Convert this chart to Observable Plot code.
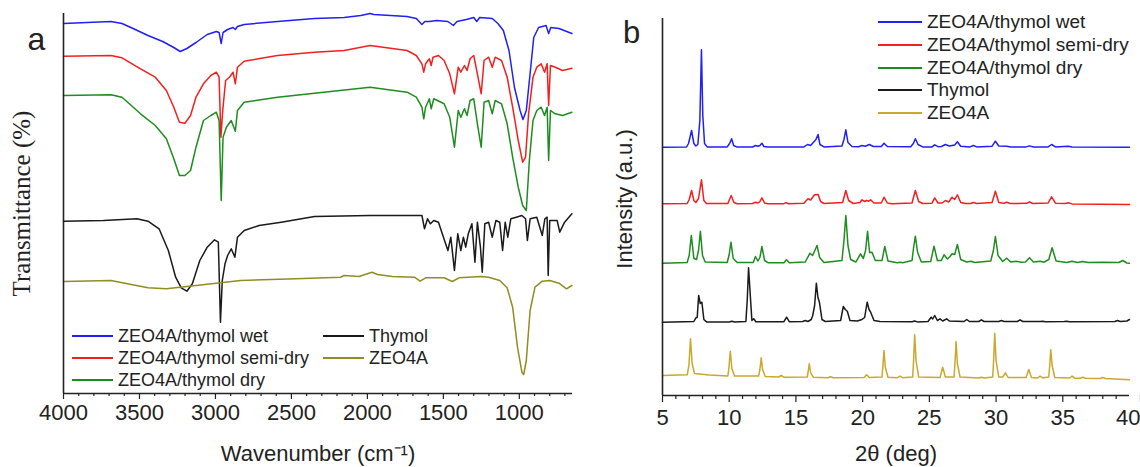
<!DOCTYPE html>
<html>
<head>
<meta charset="utf-8">
<script src="https://cdn.jsdelivr.net/npm/d3@7"></script>
<script src="https://cdn.jsdelivr.net/npm/@observablehq/plot@0.6"></script>
<style>
  html, body { margin: 0; padding: 0; background: #fff; }
  #root { position: relative; width: 1140px; height: 467px; background: #fff; overflow: hidden;
          font-family: "Liberation Sans", Arial, sans-serif; color: #222; }
  #panelA { position: absolute; left: 0; top: 0; }
  #panelB { position: absolute; left: 580px; top: 0; }
  .leg { position: absolute; display: flex; align-items: center; height: 22px; white-space: nowrap; }
  .leg .sw { display: inline-block; height: 0; border-top: 2px solid; margin-right: 5px; }
</style>
</head>
<body>
<div id="root">
  <div id="panelA"></div>
  <div id="panelB"></div>
</div>
<script>
// ---------------- Series names ----------------
const seriesNames = ["ZEO4A/thymol wet", "ZEO4A/thymol semi-dry", "ZEO4A/thymol dry", "Thymol", "ZEO4A"];

// ---------------- Panel a: FTIR (wavenumber, transmittance a.u.) ----------------
const ftirWet = [[4000,370],[3688,372],[3615,370],[3542,365],[3444,358],[3347,352],[3274,346],[3232,342],[3188,345],[3128,351],[3054,359],[2994,362],[2976,361],[2962,350],[2950,361],[2920,364],[2884,366],[2869,364],[2855,367],[2811,369],[2591,372],[2348,375],[2153,376],[2043,378],[1982,380],[1958,379],[1739,377],[1678,375],[1641,369],[1622,372],[1592,372],[1544,373],[1470,372],[1434,368],[1410,372],[1349,374],[1300,376],[1280,372],[1261,376],[1178,375],[1141,370],[1105,363],[1068,343],[1032,306],[995,283],[976,274],[954,283],[929,320],[905,356],[873,366],[824,368],[807,360],[793,366],[739,365],[654,360]];
const ftirSemi = [[4000,337.3],[3688,338],[3615,335.7],[3493,324.7],[3396,316.3],[3323,303],[3274,286.3],[3237,271.3],[3201,270.3],[3164,278],[3128,296.3],[3079,309.7],[3030,318],[2994,321.3],[2976,316.3],[2964,256.3],[2952,283],[2933,313],[2908,316.3],[2884,321.3],[2869,309.7],[2855,326.3],[2811,332.3],[2591,338],[2348,341.3],[2153,343],[1982,348],[1739,343],[1678,338],[1641,329.7],[1629,321.3],[1617,329.7],[1592,334.7],[1580,328],[1568,336.3],[1532,338],[1495,333],[1458,319.7],[1427,299.7],[1402,326.3],[1385,321.3],[1361,328],[1344,323],[1324,334.7],[1300,338],[1276,319.7],[1251,299.7],[1232,333],[1202,336.3],[1178,326.3],[1159,336.3],[1117,333],[1080,316.3],[1044,286.3],[1007,253],[978,231.3],[959,236.3],[939,279.7],[910,316.3],[885,326.3],[856,329.7],[834,321.3],[817,329.7],[807,288],[795,328],[763,326.3],[715,323],[654,325.3]];
const ftirDry = [[4000,298],[3688,298.7],[3615,296.3],[3493,279.7],[3396,268],[3323,254.7],[3274,234.7],[3237,218],[3201,218],[3164,223],[3128,246.3],[3079,273],[3030,278],[2994,281.3],[2976,273],[2962,193],[2950,256.3],[2928,266.3],[2896,273],[2869,262.3],[2855,283],[2811,291.3],[2591,296.3],[2348,300.3],[1982,306.3],[1739,301.3],[1678,296.3],[1641,286.3],[1629,274.7],[1617,286.3],[1592,294.7],[1580,284.7],[1563,294.7],[1495,289.7],[1458,276.3],[1427,246.3],[1402,283],[1385,276.3],[1361,284.7],[1344,278],[1324,293],[1300,294.7],[1276,269.7],[1251,246.3],[1232,291.3],[1202,293],[1178,279.7],[1159,293],[1117,289.7],[1080,269.7],[1044,236.3],[1007,206.3],[978,188],[954,183],[934,233],[910,273],[885,283],[856,286.3],[834,278],[817,286.3],[807,233],[795,283],[763,279.7],[715,278],[654,281.3]];
const ftirThymol = [[4000,172.3],[3737,173],[3517,174.7],[3444,172.3],[3371,164.7],[3310,143],[3262,116.3],[3225,105.7],[3188,102.3],[3152,109.7],[3103,133],[3054,146.3],[3006,153.7],[2981,151.3],[2967,71.3],[2955,113],[2937,129.7],[2920,138],[2896,144.7],[2872,136.3],[2855,156.3],[2811,163],[2713,168],[2567,171.3],[2348,177],[1982,178],[1641,178],[1624,164.7],[1604,174.7],[1585,169.7],[1563,173],[1532,171.3],[1507,159.7],[1470,143],[1451,156.3],[1427,123],[1405,159.7],[1385,143],[1368,156.3],[1353,146.3],[1336,159.7],[1312,169.7],[1292,131.3],[1276,171.3],[1256,146.3],[1244,121.3],[1227,169.7],[1202,171.3],[1178,156.3],[1154,173],[1129,171.3],[1110,143],[1093,171.3],[1076,156.3],[1056,174.7],[1020,176.3],[983,178],[959,174.7],[947,153],[929,174.7],[885,176.3],[849,158],[832,174.7],[817,176.3],[810,118],[800,173],[751,173],[734,161.3],[702,171.3],[654,179.7]];
const ftirZeo = [[4000,112],[3688,113],[3444,105.7],[3323,104.7],[3128,108],[2835,113],[2470,114.7],[2177,116.3],[2153,118],[2055,117],[1970,121.3],[1933,119],[1836,117],[1690,116.3],[1653,112.3],[1617,115.7],[1495,115.7],[1441,112],[1397,115.7],[1251,117],[1202,116.3],[1129,113],[1080,105.7],[1044,86.3],[1012,46.3],[983,21.3],[971,19],[954,33],[929,83],[897,106.3],[849,112.3],[800,113],[739,110.3],[690,104.7],[654,108]];
const ftirMajorTicks = [4000, 3500, 3000, 2500, 2000, 1500, 1000];
const ftirMinorTicks = [3900,3800,3700,3600,3400,3300,3200,3100,2900,2800,2700,2600,2400,2300,2200,2100,1900,1800,1700,1600,1400,1300,1200,1100,900,800,700];

// ---------------- Panel b: XRD (2theta, intensity a.u.) ----------------
const xrdWet = [[5,248.3],[6.8,248.5],[6.95,252],[7.18,265],[7.35,252],[7.5,249.5],[7.65,251],[7.8,275],[7.92,345.7],[8.02,280],[8.15,252],[8.35,248.6],[9.85,248.6],[10.03,252],[10.18,256.7],[10.33,250],[10.6,248.4],[11.75,248.5],[11.97,250],[12.15,249.2],[12.3,250],[12.45,252.3],[12.6,249],[12.9,248.4],[15.6,248.6],[15.87,251],[16.1,250],[16.5,256],[16.66,261],[16.8,251],[17.1,248.6],[18.45,249.5],[18.6,256],[18.74,265.7],[18.9,253],[19.2,249],[19.7,248.8],[19.95,250],[20.2,249.3],[20.5,251],[20.8,249],[21.4,249],[21.6,252.3],[21.85,249],[23.6,248.8],[23.8,252],[23.95,256.7],[24.15,251],[24.5,248.6],[25.2,248.6],[25.4,250.7],[25.65,248.8],[25.9,249],[26.2,251],[26.5,249.5],[26.9,250.5],[27.1,253.7],[27.35,249.3],[28.05,248.6],[28.3,250],[28.55,248.6],[29.7,249.3],[29.95,254.3],[30.2,249.5],[30.8,249.3],[31.1,248.5],[32.25,248.6],[32.5,249.6],[32.8,248.5],[33.9,248.6],[34.16,251],[34.45,248.6],[35.4,249.2],[35.7,248.4],[40,248.3]];
const xrdSemi = [[5,191.7],[6.85,192],[7.0,196],[7.18,205],[7.35,195],[7.5,193],[7.7,197],[7.92,215.7],[8.1,195],[8.3,192],[9.9,192],[10.15,200],[10.35,193],[10.6,191.8],[11.75,192],[11.97,193.3],[12.15,192.5],[12.3,194],[12.45,197.7],[12.65,192.5],[12.9,191.8],[14.1,191.8],[14.26,192.9],[14.45,191.8],[15.6,192.2],[15.9,196.7],[16.1,195.5],[16.4,200.7],[16.66,201],[16.85,194],[17.1,192],[18.5,193],[18.74,205],[18.95,195],[19.3,192],[19.8,193],[19.95,195.7],[20.15,194],[20.3,195],[20.45,194.3],[20.6,195.7],[20.85,192.5],[21.4,192.5],[21.6,198.3],[21.85,192.5],[22.2,191.8],[23.7,192.5],[23.95,205],[24.2,194],[24.5,192],[25.2,192.3],[25.4,197.7],[25.65,192.5],[25.95,192.5],[26.2,195],[26.45,193.5],[26.7,198.3],[26.9,196],[27.1,200.7],[27.35,193],[27.7,192],[28.1,192],[28.3,193],[28.55,192],[29.7,193],[29.95,204.3],[30.2,193],[30.6,192.3],[30.8,193.3],[31.05,192],[32.3,192.2],[32.5,193.7],[32.75,192],[33.9,192.5],[34.16,198.7],[34.45,192.3],[35.2,192],[35.4,192.7],[35.7,191.6],[40,191]];
const xrdDry = [[5,132.3],[6.85,133],[7.0,140],[7.16,160],[7.35,137],[7.55,136],[7.7,145],[7.84,164.3],[8.0,140],[8.2,133.5],[9.85,133],[10.0,141],[10.13,153.3],[10.3,137],[10.6,133],[11.8,133],[11.97,139],[12.15,134.5],[12.3,138],[12.45,149],[12.65,135],[12.9,132.8],[14.1,132.8],[14.29,135.7],[14.5,132.8],[15.7,133.5],[16.05,142.3],[16.25,140],[16.45,146],[16.58,150],[16.78,138],[17.1,133],[18.45,135],[18.6,155],[18.74,180],[18.9,150],[19.1,136],[19.5,133.5],[19.84,141.7],[20.05,137],[20.22,145],[20.37,164.3],[20.52,143],[20.7,143.3],[20.95,135],[21.45,135],[21.66,149],[21.9,134.5],[22.6,132.8],[22.8,133.3],[23.0,132.8],[23.7,135],[23.82,148],[23.95,159.3],[24.12,143],[24.4,133.5],[25.1,134],[25.35,149.3],[25.6,135],[25.9,135],[26.1,140.7],[26.35,136.5],[26.55,139],[26.7,141.7],[26.9,141],[27.1,151],[27.35,136],[27.8,133.5],[28.1,134.3],[28.4,133],[29.6,134.5],[29.8,145],[29.95,159],[30.15,140],[30.5,134],[30.8,137.3],[31.1,133.5],[31.5,134.3],[31.9,133.3],[32.2,133.5],[32.5,137.7],[32.8,133.5],[33.3,134.3],[33.6,133.3],[33.95,136],[34.2,147.7],[34.5,134.5],[35.3,133],[35.7,134.3],[36.1,133],[36.5,134],[36.9,133],[38.0,133.3],[39.2,133],[39.5,135],[39.8,132.5],[40,132.3]];
const xrdThymol = [[5,73.3],[7.35,74],[7.5,77.7],[7.6,78],[7.71,100],[7.83,92],[7.95,93.3],[8.1,76],[8.3,73.6],[10.0,73.6],[10.2,74.3],[10.4,73.5],[11.25,74],[11.35,95],[11.45,127.7],[11.58,100],[11.7,75],[11.84,76.7],[12.0,73.8],[14.1,73.8],[14.3,78.3],[14.5,73.8],[15.5,74],[15.7,75],[15.9,74],[16.15,76],[16.26,80],[16.4,90],[16.53,112.3],[16.65,98],[16.76,93.3],[16.95,76],[17.2,74],[18.35,75],[18.55,89],[18.7,86],[18.85,84.3],[19.05,75],[19.6,74.5],[19.9,75.7],[20.15,78],[20.34,93.3],[20.48,86],[20.6,83.3],[20.85,75],[21.3,74],[23.7,73.8],[23.9,74.5],[24.1,73.6],[24.9,74],[25.13,78.3],[25.25,76.5],[25.4,80],[25.6,75],[25.8,76.7],[26.0,74.5],[26.3,76.7],[26.5,74.5],[27.6,74],[27.8,76],[28.0,74],[28.7,74],[28.9,75.7],[29.1,74],[30.2,74],[30.4,75],[30.6,74],[31.6,74],[31.8,75.7],[32.0,74],[33.3,74],[33.5,74.3],[33.7,73.8],[35.1,74],[35.3,74.3],[35.5,73.8],[38.9,74],[39.1,75],[39.3,74],[39.8,74.5],[40,76]];
const xrdZeo = [[5,20],[6.85,20.7],[6.98,30],[7.1,56.7],[7.22,32],[7.4,22],[8.5,20.5],[9.9,19.5],[9.98,28],[10.08,44.3],[10.2,27],[10.4,19.5],[12.2,19.5],[12.3,26],[12.4,37.7],[12.5,26],[12.7,19],[13.7,18.5],[13.9,20],[14.1,18.3],[15.85,18.5],[15.92,24],[16.0,31.7],[16.1,23],[16.3,18.3],[17.4,17.7],[17.6,18.7],[17.8,17.7],[20.1,18],[20.3,20.7],[20.5,18],[21.45,18.5],[21.52,30],[21.6,45],[21.7,28],[21.9,18.3],[22.6,17.8],[22.8,19.3],[23.0,17.8],[23.75,18.5],[23.82,35],[23.9,60.7],[24.0,35],[24.2,18.5],[25.8,18],[26.0,28.3],[26.2,18.5],[26.85,18.5],[26.92,32],[27.0,54],[27.1,32],[27.3,18.5],[28.7,17.5],[28.9,18.3],[29.1,17.5],[29.75,18.5],[29.82,36],[29.9,62.3],[30.0,35],[30.2,18.5],[30.5,18.5],[30.7,22.7],[30.9,18],[32.25,18],[32.45,26],[32.65,18],[33.1,17.5],[33.3,19.3],[33.5,17.5],[33.95,18.5],[34.02,30],[34.1,45.7],[34.2,30],[34.4,18],[35.5,17.5],[35.7,19.3],[35.9,17.3],[36.3,17.3],[36.5,18.3],[36.7,17.2],[37.8,17],[38.0,18],[38.2,17],[40,15.7]];
const xrdMajorTicks = [5, 10, 15, 20, 25, 30, 35];
const xrdLastTick = [40];
const xrdMinorTicks = [6,7,8,9,11,12,13,14,16,17,18,19,21,22,23,24,26,27,28,29,31,32,33,34,36,37,38,39];

// ---------------- Styles ----------------
const colorsA = ["#2020f4", "#f21f1f", "#1f8c1f", "#1a1a1a", "#8e8e22"];
const colorsB = ["#2020f4", "#f21f1f", "#1f8c1f", "#1a1a1a", "#c9a82c"];
const FONT = "'Liberation Sans', Arial, sans-serif";
const SERIF = "'Liberation Serif', 'Times New Roman', serif";

function rows(list) {
  const out = [];
  list.forEach((pts, i) => pts.forEach(([x, y]) => out.push({series: seriesNames[i], x, y})));
  return out;
}
const rowsA = rows([ftirWet, ftirSemi, ftirDry, ftirThymol, ftirZeo]);
const rowsB = rows([xrdWet, xrdSemi, xrdDry, xrdThymol, xrdZeo]);

const T = {textAnchor: "middle", lineAnchor: "middle", fill: "#222"};

// ---------------- Panel a ----------------
const plotA = Plot.plot({
  width: 580, height: 467,
  marginLeft: 63, marginRight: 8, marginTop: 13, marginBottom: 74,
  x: {domain: [4000, 650], label: null},
  y: {domain: [0, 380], axis: null},
  color: {domain: seriesNames, range: colorsA},
  style: {fontFamily: FONT, fontSize: "22px", color: "#222", background: "transparent", overflow: "visible"},
  marks: [
    Plot.axisX({ticks: ftirMinorTicks, tickSize: 3, tickFormat: () => "", label: null, strokeWidth: 1.2}),
    Plot.axisX({ticks: ftirMajorTicks, tickSize: 6, tickPadding: 5, tickFormat: d => String(d), label: null, strokeWidth: 1.2, fontSize: 22, fontFamily: FONT}),
    Plot.line(rowsA, {x: "x", y: "y", z: "series", stroke: "series", strokeWidth: 1.5}),
    Plot.ruleY([0], {stroke: "#222", strokeWidth: 1.6}),
    Plot.ruleX([4000], {stroke: "#222", strokeWidth: 1.6}),
    Plot.text(["a"], {...T, text: d => d, frameAnchor: "top-left", dx: -27, dy: 26, fontSize: 32, fontFamily: FONT}),
    Plot.text(["Transmittance (%)"], {...T, text: d => d, frameAnchor: "left", dx: -42, rotate: -90, fontSize: 25, fontFamily: SERIF}),
    Plot.text(["Wavenumber (cm\u207B\u00B9)"], {...T, text: d => d, frameAnchor: "bottom", dy: 60, fontSize: 22, fontFamily: FONT})
  ]
});
document.getElementById("panelA").appendChild(plotA);

// ---------------- Panel b ----------------
const plotB = Plot.plot({
  width: 560, height: 467,
  marginLeft: 82, marginRight: 11, marginTop: 18, marginBottom: 72,
  x: {domain: [5, 40], label: null},
  y: {domain: [0, 377], axis: null},
  color: {domain: seriesNames, range: colorsB},
  style: {fontFamily: FONT, fontSize: "22px", color: "#222", background: "transparent", overflow: "visible"},
  marks: [
    Plot.axisX({ticks: xrdMinorTicks, tickSize: 4, tickFormat: () => "", label: null, strokeWidth: 1.2}),
    Plot.axisX({ticks: xrdMajorTicks, tickSize: 7, tickPadding: 7, tickFormat: d => String(d), label: null, strokeWidth: 1.2, fontSize: 22, fontFamily: FONT}),
    Plot.axisX({ticks: xrdLastTick, tickSize: 7, tickPadding: 7, tickFormat: d => String(d), label: null, strokeWidth: 1.2, fontSize: 22, fontFamily: FONT, textAnchor: "end", dx: 11}),
    Plot.line(rowsB, {x: "x", y: "y", z: "series", stroke: "series", strokeWidth: 1.5}),
    Plot.ruleY([0], {stroke: "#222", strokeWidth: 1.6}),
    Plot.ruleX([5], {stroke: "#222", strokeWidth: 1.6}),
    Plot.text(["b"], {...T, text: d => d, frameAnchor: "top-left", dx: -31, dy: 15, fontSize: 31, fontFamily: FONT}),
    Plot.text(["Intensity (a.u.)"], {...T, text: d => d, frameAnchor: "left", dx: -38, dy: -8, rotate: -90, fontSize: 22, fontFamily: FONT}),
    Plot.text(["2θ (deg)"], {...T, text: d => d, frameAnchor: "bottom", dy: 58, fontSize: 22, fontFamily: FONT})
  ]
});
document.getElementById("panelB").appendChild(plotB);

// ---------------- Legends ----------------
const root = document.getElementById("root");
function addLegend(idx, colors, left, centerY, lineW, fontSize) {
  const div = document.createElement("div");
  div.className = "leg";
  div.style.left = left + "px";
  div.style.top = (centerY - 11) + "px";
  div.style.fontSize = fontSize + "px";
  const sw = document.createElement("span");
  sw.className = "sw";
  sw.style.width = lineW + "px";
  sw.style.borderTopColor = colors[idx];
  div.appendChild(sw);
  div.appendChild(document.createTextNode(seriesNames[idx]));
  root.appendChild(div);
}
// panel a legend (two columns)
addLegend(0, colorsA, 72, 336, 41, 18);
addLegend(1, colorsA, 72, 358, 41, 18);
addLegend(2, colorsA, 72, 380, 41, 18);
addLegend(3, colorsA, 323, 336, 41, 18);
addLegend(4, colorsA, 323, 358, 41, 18);
// panel b legend
[0, 1, 2, 3, 4].forEach((i) => addLegend(i, colorsB, 878, 21.7 + i * 22.9, 44, 19));
</script>
</body>
</html>
